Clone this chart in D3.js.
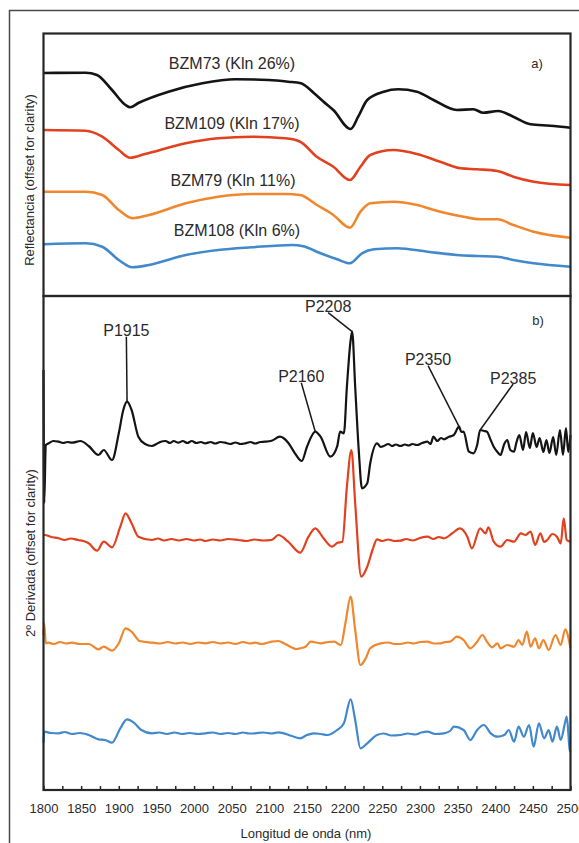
<!DOCTYPE html>
<html>
<head>
<meta charset="utf-8">
<script src="https://cdn.jsdelivr.net/npm/d3@7"></script>
<style>
  body { margin: 0; background: #fff; }
  svg { display: block; font-family: "Liberation Sans", Arial, sans-serif; }
</style>
</head>
<body>
<div id="chart"></div>
<script>
// ---- data (offset units) ----
var sampleNames = ["BZM73 (Kln 26%)", "BZM109 (Kln 17%)", "BZM79 (Kln 11%)", "BZM108 (Kln 6%)"];
var seriesColors = ["#141414", "#e2411f", "#f0872e", "#4189cc"];
var xTicks = [1800, 1825, 1850, 1875, 1900, 1925, 1950, 1975, 2000, 2025, 2050, 2075, 2100, 2125, 2150,
  2175, 2200, 2225, 2250, 2275, 2300, 2325, 2350, 2375, 2400, 2425, 2450, 2475, 2500];

// a) reflectance spectra
var refl73 = [[1800,2.23],[1856,2.233],[1871,2.21],[1891,2.06],[1909,1.91],[1915,1.887],[1926,1.93],[1966,2.043],
  [2011,2.127],[2055,2.167],[2099,2.16],[2125,2.143],[2142,2.127],[2159,2.03],[2172,1.943],[2185,1.86],[2208,1.67],
  [2218,1.793],[2230,1.96],[2252,2.043],[2271,2.067],[2296,2.043],[2318,1.96],[2349,1.86],[2371,1.867],[2384,1.833],
  [2404,1.85],[2424,1.793],[2447,1.717],[2473,1.703],[2500,1.683]];
var refl109 = [[1800,1.66],[1856,1.653],[1878,1.593],[1900,1.46],[1915,1.383],[1935,1.42],[1989,1.527],[2032,1.577],
  [2077,1.593],[2121,1.577],[2141,1.543],[2163,1.393],[2185,1.293],[2207,1.16],[2221,1.293],[2234,1.41],[2265,1.46],
  [2296,1.42],[2327,1.343],[2354,1.277],[2376,1.267],[2403,1.25],[2424,1.193],[2451,1.143],[2500,1.11]];
var refl79 = [[1800,1.043],[1856,1.043],[1878,1.01],[1900,0.86],[1918,0.777],[1940,0.81],[1989,0.927],[2032,0.993],
  [2077,1.02],[2121,1.02],[2141,1.01],[2163,0.91],[2185,0.81],[2207,0.683],[2221,0.843],[2234,0.927],[2265,0.943],
  [2296,0.91],[2327,0.843],[2358,0.793],[2380,0.767],[2403,0.767],[2424,0.71],[2451,0.643],[2500,0.583]];
var refl108 = [[1800,0.517],[1856,0.527],[1878,0.493],[1900,0.36],[1918,0.287],[1940,0.31],[1989,0.41],[2032,0.46],
  [2077,0.487],[2130,0.51],[2145,0.497],[2168,0.427],[2190,0.367],[2207,0.327],[2223,0.427],[2239,0.467],[2270,0.477],
  [2310,0.443],[2349,0.41],[2376,0.40],[2403,0.393],[2424,0.36],[2451,0.327],[2500,0.293]];

// b) second derivative spectra
var deriv73 = [[1800,4.20],[1801,2.87],[1803,3.45],[1807,3.467],[1813,3.49],[1820,3.483],[1826,3.47],[1832,3.48],
  [1838,3.473],[1849,3.49],[1860,3.44],[1873,3.35],[1880,3.40],[1891,3.30],[1900,3.567],[1906,3.80],[1911,3.883],
  [1917,3.80],[1926,3.533],[1935,3.46],[1944,3.44],[1950,3.46],[1955,3.48],[1962,3.49],[1968,3.47],[1973,3.49],
  [1979,3.473],[1985,3.49],[1991,3.47],[1997,3.49],[2003,3.47],[2009,3.48],[2015,3.467],[2022,3.48],[2028,3.465],
  [2035,3.48],[2041,3.473],[2048,3.46],[2055,3.475],[2062,3.46],[2068,3.467],[2075,3.48],[2081,3.465],[2088,3.48],
  [2094,3.483],[2103,3.493],[2114,3.533],[2125,3.473],[2134,3.367],[2143,3.29],[2150,3.433],[2161,3.583],[2168,3.533],
  [2181,3.333],[2190,3.433],[2194,3.583],[2199,3.567],[2203,4.033],[2208,4.50],[2210,4.583],[2214,4.033],[2219,3.367],
  [2223,3.017],[2230,3.067],[2234,3.267],[2243,3.467],[2248,3.43],[2252,3.44],[2258,3.46],[2263,3.44],[2268,3.455],
  [2274,3.44],[2280,3.455],[2285,3.445],[2290,3.46],[2296,3.45],[2303,3.47],[2310,3.483],[2314,3.46],[2318,3.533],
  [2323,3.49],[2328,3.52],[2332,3.507],[2338,3.53],[2345,3.55],[2352,3.633],[2355,3.58],[2358,3.583],[2365,3.383],
  [2371,3.367],[2376,3.45],[2380,3.60],[2385,3.59],[2389,3.583],[2394,3.50],[2398,3.433],[2403,3.38],[2407,3.35],
  [2412,3.46],[2416,3.50],[2420,3.40],[2425,3.383],[2428,3.47],[2432,3.55],[2437,3.40],[2441,3.58],[2446,3.42],
  [2450,3.57],[2455,3.43],[2459,3.52],[2464,3.38],[2468,3.50],[2472,3.37],[2477,3.53],[2481,3.35],[2486,3.60],
  [2490,3.35],[2494,3.62],[2497,3.38],[2500,3.55]];
var deriv109 = [[1800,2.55],[1802,2.55],[1810,2.53],[1820,2.517],[1828,2.50],[1836,2.515],[1846,2.50],[1853,2.49],
  [1860,2.467],[1871,2.393],[1880,2.483],[1891,2.427],[1902,2.633],[1909,2.767],[1917,2.667],[1926,2.533],
  [1944,2.50],[1952,2.515],[1960,2.495],[1970,2.51],[1980,2.495],[1990,2.51],[2000,2.495],[2008,2.505],[2015,2.49],
  [2025,2.505],[2035,2.495],[2045,2.51],[2059,2.50],[2070,2.49],[2080,2.505],[2092,2.495],[2103,2.50],[2112,2.55],
  [2125,2.483],[2141,2.373],[2152,2.533],[2161,2.617],[2172,2.517],[2183,2.433],[2190,2.47],[2197,2.483],
  [2203,3.033],[2209,3.40],[2214,2.867],[2222,2.133],[2230,2.233],[2237,2.40],[2243,2.507],[2250,2.49],
  [2258,2.505],[2266,2.49],[2274,2.493],[2282,2.51],[2290,2.495],[2300,2.52],[2310,2.533],[2318,2.51],
  [2325,2.53],[2332,2.517],[2343,2.567],[2353,2.617],[2363,2.533],[2369,2.417],[2380,2.617],[2387,2.567],
  [2391,2.627],[2398,2.483],[2407,2.433],[2416,2.50],[2425,2.483],[2434,2.567],[2440,2.55],[2447,2.583],
  [2453,2.45],[2460,2.567],[2465,2.48],[2469,2.50],[2476,2.56],[2482,2.533],[2487,2.467],[2491,2.717],
  [2495,2.50],[2500,2.483]];
var deriv79 = [[1800,1.55],[1801,1.667],[1803,1.467],[1806,1.473],[1814,1.46],[1822,1.48],[1830,1.465],[1838,1.473],
  [1848,1.46],[1860,1.46],[1873,1.407],[1880,1.433],[1891,1.393],[1900,1.467],[1909,1.617],[1917,1.583],
  [1928,1.49],[1944,1.473],[1955,1.465],[1965,1.48],[1975,1.465],[1985,1.475],[1995,1.46],[2005,1.475],
  [2015,1.467],[2025,1.48],[2035,1.465],[2045,1.475],[2055,1.46],[2065,1.48],[2074,1.465],[2081,1.473],
  [2090,1.46],[2103,1.483],[2112,1.49],[2121,1.46],[2136,1.41],[2141,1.417],[2148,1.433],[2155,1.483],
  [2168,1.467],[2178,1.48],[2186,1.483],[2195,1.45],[2201,1.667],[2208,1.933],[2214,1.60],[2221,1.25],
  [2228,1.317],[2234,1.417],[2248,1.467],[2258,1.475],[2266,1.46],[2274,1.46],[2284,1.475],[2292,1.465],
  [2300,1.48],[2310,1.483],[2318,1.465],[2327,1.467],[2334,1.48],[2340,1.483],[2349,1.533],[2358,1.50],
  [2367,1.417],[2376,1.483],[2383,1.55],[2389,1.483],[2396,1.427],[2403,1.467],[2407,1.417],[2416,1.45],
  [2425,1.433],[2431,1.50],[2436,1.45],[2442,1.583],[2447,1.433],[2453,1.517],[2458,1.417],[2464,1.50],
  [2471,1.40],[2480,1.55],[2487,1.45],[2493,1.607],[2500,1.417]];
var deriv108 = [[1800,0.473],[1801,0.583],[1810,0.57],[1820,0.567],[1828,0.58],[1838,0.56],[1848,0.57],[1860,0.55],
  [1873,0.507],[1882,0.50],[1891,0.473],[1902,0.617],[1911,0.707],[1920,0.673],[1930,0.60],[1944,0.567],
  [1954,0.575],[1964,0.56],[1974,0.575],[1984,0.56],[1994,0.57],[2005,0.56],[2015,0.567],[2025,0.575],
  [2035,0.56],[2045,0.57],[2055,0.56],[2065,0.575],[2073,0.565],[2081,0.567],[2092,0.575],[2103,0.565],
  [2112,0.577],[2130,0.54],[2141,0.517],[2150,0.55],[2159,0.567],[2168,0.56],[2177,0.55],[2190,0.60],
  [2199,0.667],[2208,0.907],[2214,0.70],[2221,0.417],[2230,0.467],[2243,0.55],[2252,0.565],[2262,0.545],
  [2274,0.55],[2284,0.565],[2294,0.555],[2302,0.575],[2310,0.583],[2320,0.56],[2332,0.567],[2340,0.59],
  [2345,0.633],[2358,0.60],[2367,0.50],[2376,0.60],[2385,0.65],[2394,0.567],[2403,0.533],[2412,0.55],
  [2418,0.60],[2425,0.483],[2431,0.633],[2438,0.533],[2445,0.65],[2451,0.433],[2458,0.667],[2465,0.517],
  [2471,0.60],[2476,0.483],[2482,0.633],[2487,0.50],[2493,0.683],[2495,0.733],[2499,0.40],[2500,0.38]];

// peak labels on the BZM73 second-derivative curve
var peakNames = ["P1915", "P2160", "P2208", "P2350", "P2385"];
var peakNm = [1911, 2161, 2210, 2352, 2380];

var reflSeries = [refl73, refl109, refl79, refl108];
var derivSeries = [deriv73, deriv109, deriv79, deriv108];

// ---- layout ----
var width = 579, height = 843;
var left = 43.5, right = 570.5, topA = 33.5, midY = 296, bottomB = 790;

var svg = d3.select("#chart").append("svg")
    .attr("width", width)
    .attr("height", height);

var x = d3.scaleLinear().domain([1800, 2500]).range([left, right]);
var yA = d3.scaleLinear().domain([0, 2.625]).range([midY, topA]);
var yB = d3.scaleLinear().domain([0, 4.94]).range([bottomB, midY]);

// outer page frame
svg.append("path")
    .attr("d", "M9.5,843V10.5H579")
    .attr("fill", "none")
    .attr("stroke", "#4a4a4a")
    .attr("stroke-width", 1.5);

var lineA = d3.line()
    .x(function(d) { return x(d[0]); })
    .y(function(d) { return yA(d[1]); })
    .curve(d3.curveMonotoneX);

var lineB = d3.line()
    .x(function(d) { return x(d[0]); })
    .y(function(d) { return yB(d[1]); })
    .curve(d3.curveMonotoneX);

svg.selectAll(".refl")
    .data(reflSeries)
  .enter().append("path")
    .attr("class", "refl")
    .attr("fill", "none")
    .attr("stroke", function(d, i) { return seriesColors[i]; })
    .attr("stroke-width", 2.6)
    .attr("stroke-linejoin", "round")
    .attr("d", lineA);

svg.selectAll(".deriv")
    .data(derivSeries)
  .enter().append("path")
    .attr("class", "deriv")
    .attr("fill", "none")
    .attr("stroke", function(d, i) { return seriesColors[i]; })
    .attr("stroke-width", 2.2)
    .attr("stroke-linejoin", "round")
    .attr("d", lineB);

// panel frames
svg.append("rect")
    .attr("x", left).attr("y", topA)
    .attr("width", right - left).attr("height", midY - topA)
    .attr("fill", "none").attr("stroke", "#262626").attr("stroke-width", 2.2);
svg.append("rect")
    .attr("x", left).attr("y", midY)
    .attr("width", right - left).attr("height", bottomB - midY)
    .attr("fill", "none").attr("stroke", "#262626").attr("stroke-width", 2.2);

// x axis, inward ticks every 25 nm, labels every 50 nm
var xAxis = svg.append("g")
    .attr("transform", "translate(0," + bottomB + ")")
    .call(d3.axisBottom(x)
      .tickValues(xTicks)
      .tickSize(-4)
      .tickPadding(14)
      .tickFormat(function(d) { return d % 50 === 0 ? d : ""; }));
xAxis.select(".domain").remove();
xAxis.selectAll(".tick line").attr("stroke", "#262626").attr("stroke-width", 1.5);
xAxis.selectAll(".tick text")
    .attr("font-size", 13)
    .attr("font-family", "'Liberation Sans', Arial, sans-serif")
    .attr("fill", "#2a2a2a");

svg.append("text")
    .attr("x", 306).attr("y", 837.5)
    .attr("text-anchor", "middle")
    .attr("font-size", 13)
    .attr("fill", "#2a2a2a")
    .text("Longitud de onda (nm)");

svg.append("text")
    .attr("transform", "translate(34,180) rotate(-90)")
    .attr("text-anchor", "middle")
    .attr("font-size", 13)
    .attr("fill", "#2a2a2a")
    .text("Reflectancia (offset for clarity)");

svg.append("text")
    .attr("transform", "translate(34.5,553) rotate(-90)")
    .attr("text-anchor", "middle")
    .attr("font-size", 13)
    .attr("fill", "#2a2a2a")
    .text("2º Derivada (offset for clarity)");

// sample names above each reflectance curve
var nameX = [232, 232, 233, 237], nameY = [63, 123, 180, 230];
svg.selectAll(".sname")
    .data(sampleNames)
  .enter().append("text")
    .attr("class", "sname")
    .attr("x", function(d, i) { return nameX[i]; })
    .attr("y", function(d, i) { return nameY[i] + 5.7; })
    .attr("text-anchor", "middle")
    .attr("font-size", 16)
    .attr("fill", "#2a2a2a")
    .text(function(d) { return d; });

svg.append("text").attr("x", 537).attr("y", 67.5)
    .attr("text-anchor", "middle").attr("font-size", 13).attr("fill", "#2a2a2a").text("a)");
svg.append("text").attr("x", 538).attr("y", 324.5)
    .attr("text-anchor", "middle").attr("font-size", 13).attr("fill", "#2a2a2a").text("b)");

// peak callouts: label offset from the peak point (px)
var peakDx = [-0.7, -14, -24, -31, 33], peakDy = [-71, -55, -25, -67, -52];
function peakVal(nm) {
  var p = deriv73.find(function(d) { return d[0] === nm; });
  return p[1];
}
peakNames.forEach(function(name, i) {
  var px = x(peakNm[i]), py = yB(peakVal(peakNm[i]));
  var lx = px + peakDx[i], ly = py + peakDy[i];
  svg.append("line")
      .attr("x1", lx).attr("y1", ly + 6)
      .attr("x2", px).attr("y2", py)
      .attr("stroke", "#1a1a1a")
      .attr("stroke-width", 1.5);
  svg.append("text")
      .attr("x", lx).attr("y", ly + 5.7)
      .attr("text-anchor", "middle")
      .attr("font-size", 16)
      .attr("fill", "#2a2a2a")
      .text(name);
});
</script>
</body>
</html>
